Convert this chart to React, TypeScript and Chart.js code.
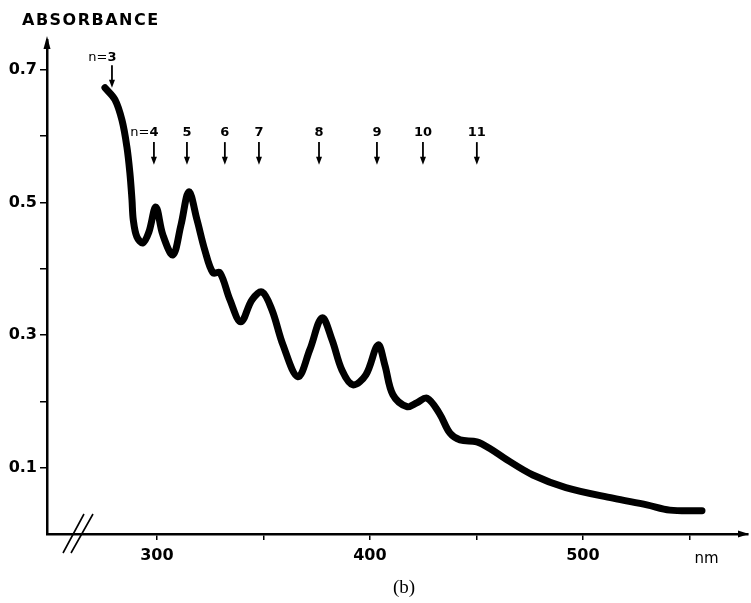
import React, { useEffect, useRef } from 'react';
import { Chart, registerables } from 'chart.js';
Chart.register(...registerables);

// Spectrum (nm, absorbance)
const wavelengths = [
  275.6, 280.3, 283.6, 285.9, 287.3, 288.3, 288.9, 290.6, 293.4, 296.2,
  299.5, 302.8, 307.5, 311.3, 315.0, 318.8, 322.5, 326.3, 329.6, 334.3,
  339.4, 344.6, 349.3, 354.0, 359.2, 366.2, 371.8, 377.5, 382.2, 386.9,
  392.0, 398.1, 403.8, 407.0, 410.8, 417.4, 422.1, 426.8, 432.6, 437.6,
  442.3, 450.2, 456.3, 464.3, 476.5, 492.0, 514.1, 530.0, 540.8, 555.9,
];
const absorbance = [
  0.673, 0.655, 0.624, 0.584, 0.545, 0.504, 0.474, 0.448, 0.439, 0.455,
  0.493, 0.451, 0.421, 0.466, 0.516, 0.474, 0.428, 0.394, 0.394, 0.353,
  0.320, 0.353, 0.365, 0.338, 0.285, 0.237, 0.278, 0.326, 0.293, 0.247,
  0.225, 0.240, 0.285, 0.255, 0.210, 0.192, 0.198, 0.205, 0.182, 0.152,
  0.142, 0.139, 0.129, 0.112, 0.089, 0.070, 0.054, 0.044, 0.036, 0.035,
];

// Arrow markers (n values)
const arrowWavelengths = [278.9, 298.6, 314.1, 331.9, 347.9, 376.1, 403.3, 424.9, 450.2];
const arrowNumbers = ['3', '4', '5', '6', '7', '8', '9', '10', '11'];
const arrowPrefixes = ['n=', 'n=', '', '', '', '', '', '', ''];
const arrowTops = [0.707, 0.591, 0.591, 0.591, 0.591, 0.591, 0.591, 0.591, 0.591];
const arrowTips = [0.673, 0.557, 0.557, 0.557, 0.557, 0.557, 0.557, 0.557, 0.557];
const arrowLabelY = [0.719, 0.605, 0.605, 0.605, 0.605, 0.605, 0.605, 0.605, 0.605];

// Axes
const xTicks = [300, 350, 400, 450, 500, 550];
const xTickLabels = ['300', '', '400', '', '500', ''];
const yTicks = [0.1, 0.2, 0.3, 0.4, 0.5, 0.6, 0.7];
const yTickLabels = ['0.1', '', '0.3', '', '0.5', '', '0.7'];
const xMin = 248.4;
const xMax = 577.5;
const yMin = 0;
const yMax = 0.745;
const yTitle = 'ABSORBANCE';
const xUnit = 'nm';
const caption = '(b)';

const decorPlugin = {
  id: 'decor',
  afterDraw(chart: any) {
    const { ctx, chartArea: a, scales } = chart;
    const x = scales.x;
    const y = scales.y;
    ctx.save();
    ctx.fillStyle = '#000';
    ctx.strokeStyle = '#000';

    // y axis arrow head
    ctx.beginPath();
    ctx.moveTo(a.left, a.top - 4);
    ctx.lineTo(a.left - 3.5, a.top + 9);
    ctx.lineTo(a.left + 3.5, a.top + 9);
    ctx.closePath();
    ctx.fill();
    // x axis arrow head
    ctx.beginPath();
    ctx.moveTo(a.right + 1, a.bottom);
    ctx.lineTo(a.right - 10, a.bottom - 3.5);
    ctx.lineTo(a.right - 10, a.bottom + 3.5);
    ctx.closePath();
    ctx.fill();

    // axis break marks
    ctx.lineWidth = 1.6;
    ctx.beginPath();
    ctx.moveTo(a.left + 16, a.bottom + 19);
    ctx.lineTo(a.left + 37, a.bottom - 20);
    ctx.moveTo(a.left + 24, a.bottom + 19);
    ctx.lineTo(a.left + 46, a.bottom - 20);
    ctx.stroke();

    // arrows with n labels
    for (let i = 0; i < arrowWavelengths.length; i++) {
      const px = x.getPixelForValue(arrowWavelengths[i]);
      const top = y.getPixelForValue(arrowTops[i]);
      const tip = y.getPixelForValue(arrowTips[i]);
      ctx.lineWidth = 1.8;
      ctx.beginPath();
      ctx.moveTo(px, top);
      ctx.lineTo(px, tip - 6);
      ctx.stroke();
      ctx.beginPath();
      ctx.moveTo(px, tip);
      ctx.lineTo(px - 3, tip - 8);
      ctx.lineTo(px + 3, tip - 8);
      ctx.closePath();
      ctx.fill();

      const ly = y.getPixelForValue(arrowLabelY[i]);
      ctx.font = 'bold 13px "DejaVu Sans"';
      ctx.textBaseline = 'middle';
      ctx.textAlign = 'center';
      ctx.fillText(arrowNumbers[i], px, ly);
      if (arrowPrefixes[i]) {
        const w = ctx.measureText(arrowNumbers[i]).width;
        ctx.font = '13px "DejaVu Sans"';
        ctx.textAlign = 'right';
        ctx.fillText(arrowPrefixes[i], px - w / 2, ly);
      }
    }

    // y title
    ctx.font = 'bold 16px "DejaVu Sans"';
    (ctx as any).letterSpacing = '1.5px';
    ctx.textAlign = 'left';
    ctx.textBaseline = 'alphabetic';
    ctx.fillText(yTitle, 22, 25);
    (ctx as any).letterSpacing = '0px';

    // unit
    ctx.font = '15px "DejaVu Sans"';
    ctx.textAlign = 'center';
    ctx.fillText(xUnit, x.getPixelForValue(558), a.bottom + 29);

    // caption
    ctx.font = '19px "Liberation Serif"';
    ctx.fillText(caption, 404, a.bottom + 59);
    ctx.restore();
  },
};

export default function App() {
  const ref = useRef<HTMLCanvasElement | null>(null);
  useEffect(() => {
    if (!ref.current) return;
    const chart = new Chart(ref.current, {
      type: 'line',
      data: {
        datasets: [
          {
            data: wavelengths.map((w, i) => ({ x: w, y: absorbance[i] })),
            borderColor: '#000',
            borderWidth: 7,
            pointRadius: 0,
            tension: 0.35,
            borderCapStyle: 'round',
            borderJoinStyle: 'round',
            fill: false,
          },
        ],
      },
      options: {
        responsive: false,
        animation: false,
        layout: { padding: { top: 40, right: 3, left: 0, bottom: 0 } },
        plugins: { legend: { display: false }, tooltip: { enabled: false } },
        scales: {
          x: {
            type: 'linear',
            min: xMin,
            max: xMax,
            afterBuildTicks: (s: any) => {
              s.ticks = xTicks.map((v) => ({ value: v }));
            },
            afterFit: (s: any) => {
              s.height = 69;
            },
            ticks: {
              autoSkip: false,
              maxRotation: 0,
              color: '#000',
              padding: 6,
              font: { family: 'DejaVu Sans', size: 16, weight: 'bold' },
              callback: (_v: any, i: number) => xTickLabels[i],
            },
            grid: { drawOnChartArea: false, drawTicks: true, tickLength: 6, color: '#000', lineWidth: 1.5 },
            border: { color: '#000', width: 2.5 },
          },
          y: {
            type: 'linear',
            min: yMin,
            max: yMax,
            afterBuildTicks: (s: any) => {
              s.ticks = yTicks.map((v) => ({ value: v }));
            },
            afterFit: (s: any) => {
              s.width = 47;
            },
            ticks: {
              autoSkip: false,
              color: '#000',
              padding: 3,
              font: { family: 'DejaVu Sans', size: 16, weight: 'bold' },
              callback: (_v: any, i: number) => yTickLabels[i],
            },
            grid: { drawOnChartArea: false, drawTicks: true, tickLength: 7, color: '#000', lineWidth: 1.5 },
            border: { color: '#000', width: 2.5 },
          },
        },
      },
      plugins: [decorPlugin],
    });
    return () => chart.destroy();
  }, []);
  return (
    <div style={{ position: 'fixed', left: 0, top: 0, width: 751, height: 603, background: '#fff' }}>
      <canvas ref={ref} width={751} height={603} style={{ width: 751, height: 603 }} />
    </div>
  );
}
